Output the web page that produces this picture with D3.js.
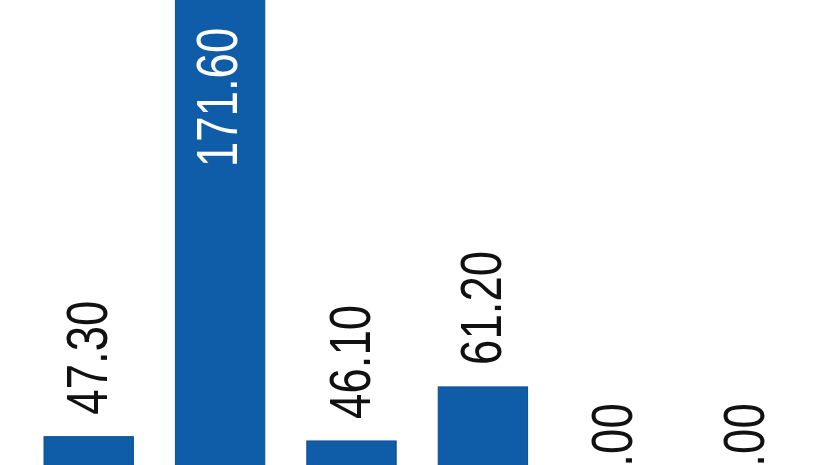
<!DOCTYPE html>
<html>
<head>
<meta charset="utf-8">
<script src="https://cdn.jsdelivr.net/npm/d3@7"></script>
<style>
  html, body { margin: 0; padding: 0; background: #fff; overflow: hidden; }
  svg { display: block; }
</style>
</head>
<body>
<svg id="chart" width="826" height="465"></svg>
<script>
// Data (the reference is a crop: category labels and axis sit below the frame)
const categories = ['c1', 'c2', 'c3', 'c4', 'c5', 'c6'];
const values = [47.30, 171.60, 46.10, 61.20, 0.00, 0.00];

const width = 826, height = 465;
const baseY = 606;          // zero line, below the visible area
const pxPerUnit = 3.58;

const svg = d3.select('#chart');

const x = d3.scaleBand()
  .domain(categories)
  .range([23, 811.4])
  .paddingInner(0.32)
  .paddingOuter(0.16);

const y = d3.scaleLinear()
  .domain([0, 180])
  .range([baseY, baseY - 180 * pxPerUnit]);

const rows = categories.map((c, i) => ({ cat: c, value: values[i] }));

svg.append('g')
  .selectAll('rect')
  .data(rows)
  .join('rect')
  .attr('x', d => x(d.cat))
  .attr('y', d => y(d.value))
  .attr('width', x.bandwidth())
  .attr('height', d => y(0) - y(d.value))
  .attr('fill', '#0f5ca9')
  .attr('stroke', '#0a4e93')
  .attr('stroke-width', 1);

const fontSize = 57, squeeze = 0.8, gap = 22;
const fmt = d3.format('.2f');

function textLen(s) {
  // rough Liberation Sans widths: digits .556em, period .278em
  let w = 0;
  for (const ch of s) w += ch === '.' ? 0.278 : 0.556;
  return w * fontSize * squeeze;
}

svg.append('g')
  .selectAll('text')
  .data(rows)
  .join('text')
  .each(function(d) {
    const label = fmt(d.value);
    const cx = x(d.cat) + x.bandwidth() / 2;
    const inside = y(d.value) - gap - textLen(label) < 0;
    const sel = d3.select(this)
      .text(label)
      .attr('font-family', '"Liberation Sans", Arial, sans-serif')
      .attr('font-size', fontSize);
    if (inside) {
      sel.attr('text-anchor', 'end')
        .attr('fill', '#ffffff')
        .attr('transform', `translate(${cx + 17},${y(d.value) + 36}) rotate(-90) scale(${squeeze},1)`);
    } else {
      const startY = Math.min(y(d.value) - gap, 492);
      sel.attr('text-anchor', 'start')
        .attr('fill', '#111')
        .attr('transform', `translate(${cx + 18},${startY}) rotate(-90) scale(${squeeze},1)`);
    }
  });
</script>
</body>
</html>
